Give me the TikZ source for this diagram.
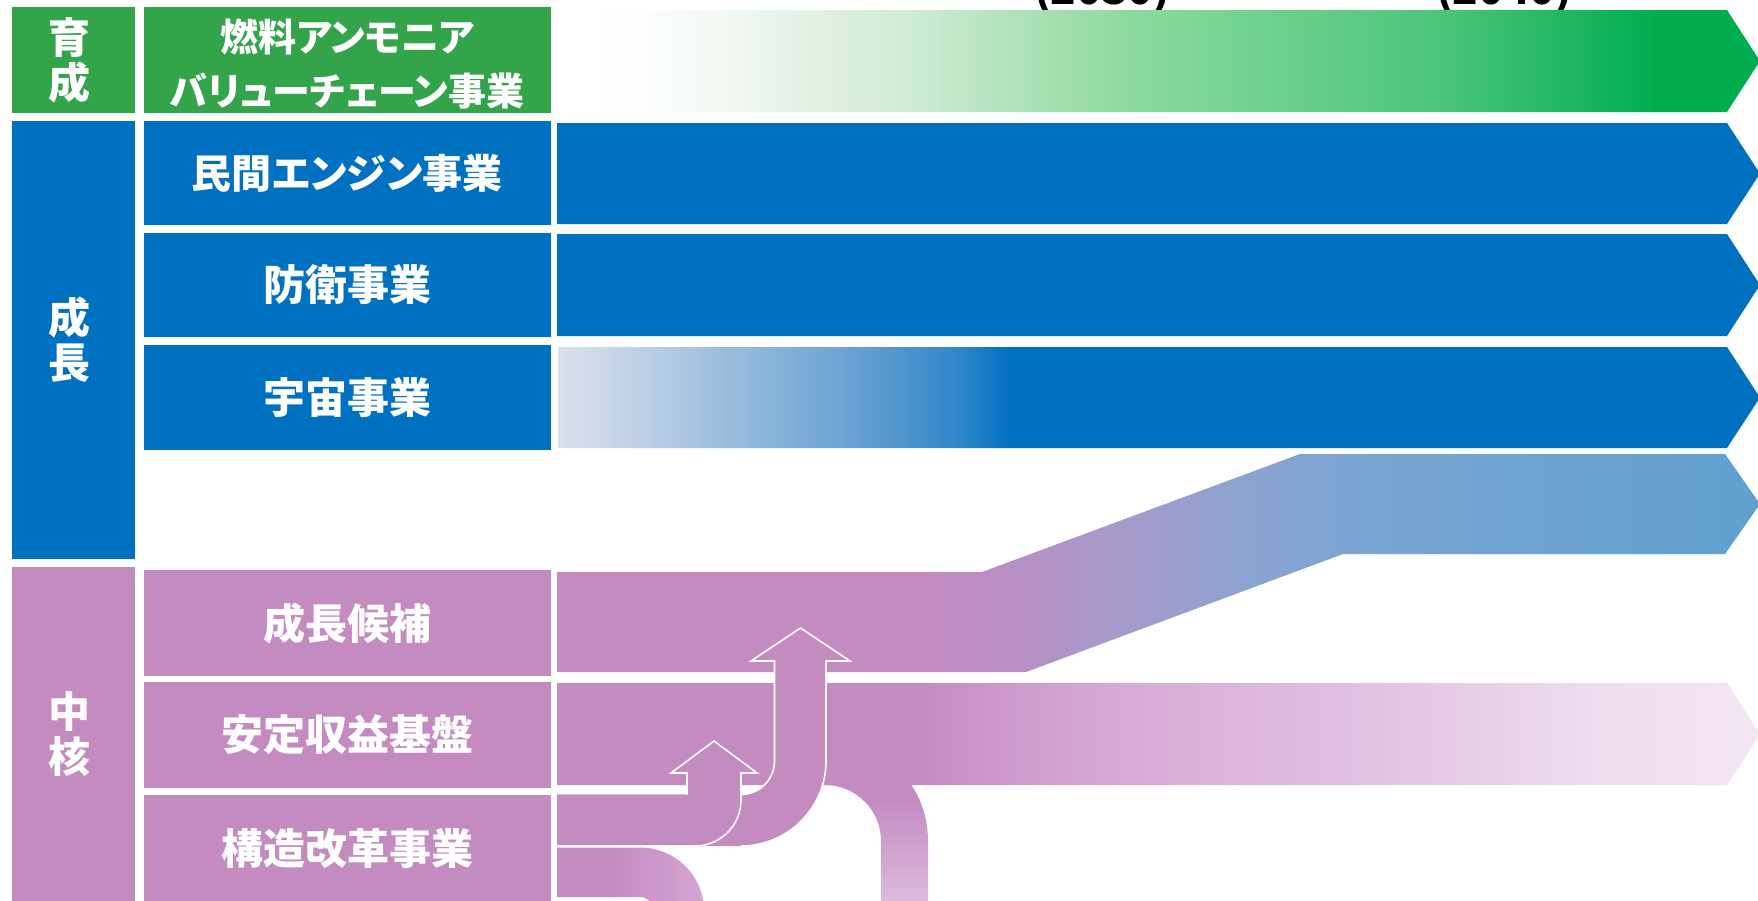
\documentclass[tikz,border=0pt]{standalone}
\usepackage{fontspec}
\newfontfamily\jp{Noto Sans CJK JP}[RawFeature=+palt]
\definecolor{gLab}{HTML}{34A44B}
\definecolor{bLab}{HTML}{0070C0}
\definecolor{pLab}{HTML}{C48BC0}
% green gradient
\definecolor{ga}{HTML}{FCFEFC}
\definecolor{gb}{HTML}{F0F7F1}
\definecolor{gc}{HTML}{DCEEDF}
\definecolor{gd}{HTML}{D0ECD5}
\definecolor{ge}{HTML}{BCE5C4}
\definecolor{gf}{HTML}{A8E0B2}
\definecolor{gg}{HTML}{8FDA9F}
\definecolor{gh}{HTML}{6BD08C}
\definecolor{gi}{HTML}{4AC478}
\definecolor{gj}{HTML}{00AE50}
% space gradient
\definecolor{sa}{HTML}{DCE1EB}
\definecolor{sb}{HTML}{A8C4E0}
\definecolor{sc}{HTML}{6AA3D3}
\definecolor{sd}{HTML}{2E86C8}
% growth gradient
\definecolor{ca}{HTML}{BA8EC3}
\definecolor{cb}{HTML}{A79ACB}
\definecolor{cc}{HTML}{8EA2CF}
\definecolor{cd}{HTML}{7DA5D3}
\definecolor{ce}{HTML}{6FA3D2}
\definecolor{cf}{HTML}{60A0CF}
% stable gradient
\definecolor{ta}{HTML}{CC96C8}
\definecolor{tb}{HTML}{D6A8D5}
\definecolor{tc}{HTML}{DBB5DA}
\definecolor{td}{HTML}{E0C0E0}
\definecolor{te}{HTML}{E6CEE6}
\definecolor{tf}{HTML}{EEDDEE}
\definecolor{tg}{HTML}{F3E6F2}
% down bands
\definecolor{da}{HTML}{DDBDDD}
\definecolor{db}{HTML}{D6A5D3}
\newcommand\hseg[4]{\shade[left color=#3,right color=#4] (#1-0.4,-5) rectangle (#2+0.4,910);}
\newcommand\vseg[4]{\shade[top color=#3,bottom color=#4] (500,#1-0.4) rectangle (1760,#2+0.4);}
\newcommand\lft{\hspace*{-8pt}}
\tikzset{
  catbox/.style={fill=#1, text=white, inner sep=0pt, align=center,
    font=\jp\bfseries\fontsize{42}{45}\selectfont, minimum width=123.5pt},
  labbox/.style={fill=#1, text=white, inner sep=0pt, align=center,
    font=\jp\bfseries\fontsize{42}{50}\selectfont, minimum width=407.5pt},
  wline/.style={draw=white, line width=1.6pt, line join=miter},
  yeartxt/.style={anchor=base, inner sep=0pt, text=black,
    font=\jp\bfseries\fontsize{42}{42}\selectfont},
}
\begin{document}
\begin{tikzpicture}[x=1pt,y=-1pt]
\useasboundingbox (0,0) rectangle (1758,900);
\fill[white] (0,0) rectangle (1758,900);

% years (cut at top, as in the reference)
\node[yeartxt] (y2030) at (1102,4) {(2030)};
\node[yeartxt] (y2040) at (1504,4) {(2040)};

% category column
\node[catbox=gLab, minimum height=106pt] (cat1) at (73.25,60.3) {\lft 育\\\lft 成};
\node[catbox=bLab, minimum height=438pt] (cat2) at (73.25,340) {\lft 成\\\lft 長};
\node[catbox=pLab, minimum height=335pt] (cat3) at (73.25,734.5) {\lft 中\\\lft 核};

% label column
\fill[gLab] (143.5,7.3) rectangle (551,113.3);
\node[text=white, inner sep=0pt, align=center, font=\jp\bfseries\fontsize{38}{54}\selectfont] (lb1) at (347.25,64) {燃料アンモニア\\バリューチェーン事業};
\node[labbox=bLab, minimum height=104pt, font=\jp\bfseries\fontsize{40}{50}\selectfont] (lb2) at (347.25,173) {民間エンジン事業};
\node[labbox=bLab, minimum height=104pt] (lb3) at (347.25,285) {防衛事業};
\node[labbox=bLab, minimum height=105pt] (lb4) at (347.25,397.5) {宇宙事業};
\node[labbox=pLab, minimum height=106pt] (lb5) at (347.25,623) {成長候補};
\node[labbox=pLab, minimum height=106pt] (lb6) at (347.25,735) {安定収益基盤};
\node[labbox=pLab, minimum height=107pt] (lb7) at (347.25,848.5) {構造改革事業};

% green arrow
\begin{scope}
\clip (558,10) -- (1727,10) -- (1760,61) -- (1727,112) -- (558,112) -- cycle;
\hseg{558}{640}{white}{ga}
\hseg{640}{740}{ga}{gb}
\hseg{740}{840}{gb}{gc}
\hseg{840}{907}{gc}{gd}
\hseg{907}{973}{gd}{ge}
\hseg{973}{1040}{ge}{gf}
\hseg{1040}{1120}{gf}{gg}
\hseg{1120}{1283}{gg}{gh}
\hseg{1283}{1447}{gh}{gi}
\hseg{1447}{1655}{gi}{gj}
\hseg{1655}{1760}{gj}{gj}
\end{scope}

% blue arrows
\fill[bLab] (557,123) -- (1727,123) -- (1760,173.5) -- (1727,224) -- (557,224) -- cycle;
\fill[bLab] (557,234) -- (1727,234) -- (1760,285) -- (1727,336) -- (557,336) -- cycle;
\begin{scope}
\clip (558,347) -- (1727,347) -- (1760,397.5) -- (1727,448) -- (558,448) -- cycle;
\hseg{558}{693}{sa}{sb}
\hseg{693}{846}{sb}{sc}
\hseg{846}{961}{sc}{sd}
\hseg{961}{1010}{sd}{bLab}
\hseg{1010}{1760}{bLab}{bLab}
\end{scope}

% growth candidate band
\begin{scope}
\clip (557,572) -- (982,572) -- (1300,454) -- (1725,454) -- (1760,504) -- (1725,554) -- (1343,554) -- (1026,672) -- (557,672) -- cycle;
\hseg{557}{920}{pLab}{pLab}
\hseg{920}{1000}{pLab}{ca}
\hseg{1000}{1119}{ca}{cb}
\hseg{1119}{1228}{cb}{cc}
\hseg{1228}{1338}{cc}{cd}
\hseg{1338}{1502}{cd}{ce}
\hseg{1502}{1760}{ce}{cf}
\end{scope}

% band going down from the stable band
\begin{scope}
\clip (825,785) .. controls (855.9,785) and (881,810.1) .. (881,841) -- (881,905) -- (928,905) -- (928,841) .. controls (928,784.1) and (881.9,738) .. (825,738) -- cycle;
\vseg{730}{800}{pLab}{pLab}
\vseg{800}{905}{pLab}{da}
\end{scope}

% lower band of restructuring going down
\begin{scope}
\clip (557,847.5) -- (640,847.5) .. controls (675.3,847.5) and (704,875.7) .. (704,911) -- (654,911) .. controls (654,903.3) and (647.7,897) .. (640,897) -- (557,897) -- cycle;
\hseg{557}{610}{pLab}{pLab}
\hseg{610}{705}{pLab}{db}
\end{scope}

% stable band
\begin{scope}
\clip (557,683) -- (1727,683) -- (1760,734) -- (1727,785) -- (557,785) -- cycle;
\hseg{557}{920}{pLab}{pLab}
\hseg{920}{983}{pLab}{ta}
\hseg{983}{1105}{ta}{tb}
\hseg{1105}{1228}{tb}{tc}
\hseg{1228}{1350}{tc}{td}
\hseg{1350}{1472}{td}{te}
\hseg{1472}{1594}{te}{tf}
\hseg{1594}{1760}{tf}{tg}
\end{scope}

% large U-turn arrow
\fill[pLab] (557,794.5) -- (741,794.5) .. controls (759.5,794.5) and (774.5,779.5) .. (774.5,761) -- (774.5,661) -- (751,661) -- (800.5,628) -- (850,661) -- (826,661) -- (826,761) .. controls (826,807.9) and (787.9,846) .. (741,846) -- (557,846) -- cycle;
\draw[wline] (741,794.5) .. controls (759.5,794.5) and (774.5,779.5) .. (774.5,761) -- (774.5,661) -- (751,661) -- (800.5,628) -- (850,661) -- (826,661) -- (826,761) .. controls (826,807.9) and (787.9,846) .. (741,846);

% small arrow
\fill[pLab] (557,794.5) -- (687,794.5) -- (687,773) -- (671,773) -- (714,741) -- (757,773) -- (741,773) -- (741,800) .. controls (741,825.4) and (720.4,846) .. (695,846) -- (557,846) -- cycle;
\draw[wline] (687,794.5) -- (687,773) -- (671,773) -- (714,741) -- (757,773) -- (741,773) -- (741,800) .. controls (741,825.4) and (720.4,846) .. (695,846) -- (557,846);
\end{tikzpicture}
\end{document}
